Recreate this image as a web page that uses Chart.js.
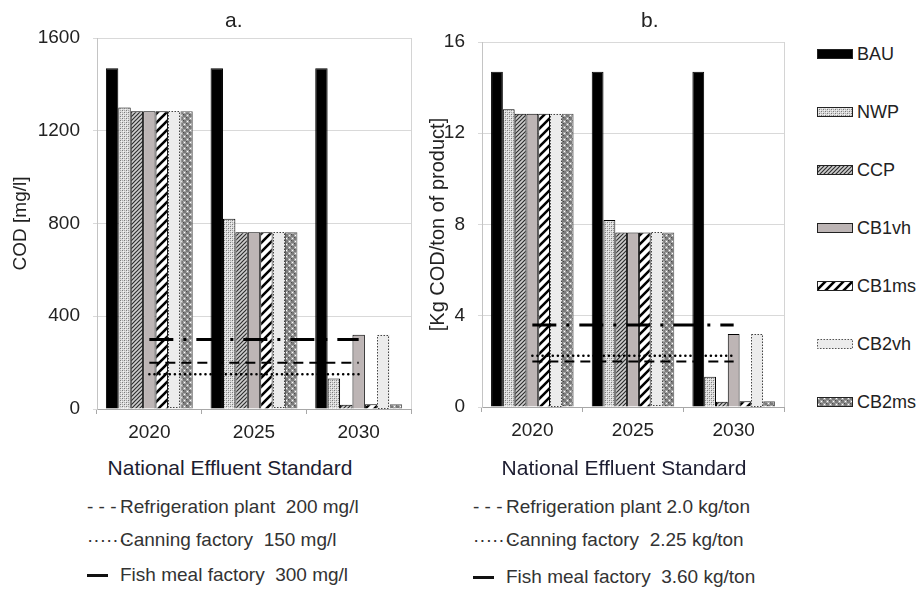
<!DOCTYPE html>
<html>
<head>
<meta charset="utf-8">
<script src="https://cdn.jsdelivr.net/npm/chart.js@4.4.1/dist/chart.umd.min.js"></script>
<style>
  body { margin: 0; background: #fff; font-family: "Liberation Sans", Arial, sans-serif; }
  #wrap { position: relative; width: 922px; height: 589px; overflow: hidden; }
  #wrap canvas.chart { position: absolute; }
  .t { position: absolute; white-space: pre; color: #222; }
  .panel { font-size: 21px; line-height: 24px; }
  .head { font-size: 21px; line-height: 24px; color: #1c1c30; text-align: center; }
  .std { font-size: 19px; line-height: 22px; color: #333; }
  .smp { display: inline-block; width: 33px; }
  .solid { display: inline-block; width: 21px; height: 3px; background: #111; vertical-align: middle; margin-right: 12px; }
  .leg { position: absolute; left: 817px; font-size: 18px; line-height: 20px; color: #222; }
  .leg canvas { position: absolute; left: 0; top: 5px; }
  .leg span { position: absolute; left: 40px; top: 0; white-space: pre; }
</style>
</head>
<body>
<div id="wrap">
  <canvas id="chart-a" class="chart" width="430" height="450" style="left:0;top:0"></canvas>
  <canvas id="chart-b" class="chart" width="375" height="450" style="left:425px;top:0"></canvas>

  <div class="t panel" style="left:225px;top:8px">a.</div>
  <div class="t panel" style="left:641px;top:8px">b.</div>

  <div class="t head" style="left:0;top:456px;width:460px">National Effluent Standard</div>
  <div class="t std" style="left:87px;top:496px"><span class="smp">- - -</span>Refrigeration plant  200 mg/l</div>
  <div class="t std" style="left:87px;top:529px"><span class="smp">·······</span>Canning factory  150 mg/l</div>
  <div class="t std" style="left:87px;top:564px"><span class="solid"></span>Fish meal factory  300 mg/l</div>

  <div class="t head" style="left:460px;top:456px;width:328px">National Effluent Standard</div>
  <div class="t std" style="left:473px;top:496px"><span class="smp">- - -</span>Refrigeration plant 2.0 kg/ton</div>
  <div class="t std" style="left:473px;top:529px"><span class="smp">·······</span>Canning factory  2.25 kg/ton</div>
  <div class="t std" style="left:473px;top:566px"><span class="solid"></span>Fish meal factory  3.60 kg/ton</div>

  <div id="legend"></div>
</div>

<script>
// categories
const years = ['2020', '2025', '2030'];
const scenarios = ['BAU', 'NWP', 'CCP', 'CB1vh', 'CB1ms', 'CB2vh', 'CB2ms'];

// panel a: COD concentration [mg/l]
const bauMg   = [1470, 1470, 1470];
const nwpMg   = [1300, 820, 132];
const ccpMg   = [1284, 762, 18];
const cb1vhMg = [1284, 762, 320];
const cb1msMg = [1284, 762, 20];
const cb2vhMg = [1284, 762, 320];
const cb2msMg = [1284, 762, 20];
const yTicksMg = [0, 400, 800, 1200, 1600];

// panel b: COD load [kg/ton of product]
const bauKg   = [14.7, 14.7, 14.7];
const nwpKg   = [13.05, 8.2, 1.33];
const ccpKg   = [12.85, 7.65, 0.23];
const cb1vhKg = [12.85, 7.65, 3.2];
const cb1msKg = [12.85, 7.65, 0.25];
const cb2vhKg = [12.85, 7.65, 3.2];
const cb2msKg = [12.85, 7.65, 0.25];
const yTicksKg = [0, 4, 8, 12, 16];

// national effluent standards
const refrigMg = [200, 200, 200];
const canningMg = [150, 150, 150];
const fishMealMg = [300, 300, 300];
const refrigKg = [2.0, 2.0, 2.0];
const canningKg = [2.25, 2.25, 2.25];
const fishMealKg = [3.6, 3.6, 3.6];

Chart.defaults.font.family = '"Liberation Sans", Arial, sans-serif';
Chart.defaults.color = '#222';

function tile(w, h, draw) {
    const c = document.createElement('canvas');
    c.width = w;
    c.height = h;
    draw(c.getContext('2d'), w, h);
    return c;
}

function diagonal(bg, fg, size, lw) {
    return tile(size, size, (g, s) => {
        g.fillStyle = bg;
        g.fillRect(0, 0, s, s);
        g.strokeStyle = fg;
        g.lineWidth = lw;
        g.beginPath();
        g.moveTo(0, s); g.lineTo(s, 0);
        g.moveTo(-s / 2, s / 2); g.lineTo(s / 2, -s / 2);
        g.moveTo(s / 2, s * 1.5); g.lineTo(s * 1.5, s / 2);
        g.stroke();
    });
}

// fill tiles, one per scenario
const tiles = {
    BAU: '#000000',
    NWP: tile(4, 4, g => {
        g.fillStyle = '#dcdcdc'; g.fillRect(0, 0, 4, 4);
        g.fillStyle = '#7a7a7a'; g.fillRect(0, 0, 1, 1); g.fillRect(2, 2, 1, 1);
        g.fillStyle = '#a8a8a8'; g.fillRect(2, 0, 1, 1); g.fillRect(0, 2, 1, 1);
        g.fillStyle = '#f4f4f4'; g.fillRect(1, 1, 1, 1); g.fillRect(3, 3, 1, 1);
    }),
    CCP: diagonal('#cfcfcf', '#2e2e2e', 4, 1.2),
    CB1vh: '#bdb5b5',
    CB1ms: diagonal('#ffffff', '#000000', 9, 2.6),
    CB2vh: '#ececec',
    CB2ms: tile(6, 6, g => {
        g.fillStyle = '#7a7a7a'; g.fillRect(0, 0, 6, 6);
        g.fillStyle = '#a4a4a4'; g.fillRect(0, 0, 3, 3); g.fillRect(3, 3, 3, 3);
        g.fillStyle = '#ffffff'; g.fillRect(1, 1, 1, 1); g.fillRect(4, 4, 1, 1);
        g.fillStyle = '#4a4a4a'; g.fillRect(3, 0, 1, 1); g.fillRect(0, 3, 1, 1);
    }),
};

function fillFor(ctx, name) {
    const t = tiles[name];
    return typeof t === 'string' ? t : ctx.createPattern(t, 'repeat');
}

// dotted outline for the CB2vh bars
const dottedBorder = {
    id: 'dottedBorder',
    afterDatasetDraw(chart, args) {
        const ds = chart.data.datasets[args.index];
        if (!ds.dotted) return;
        const ctx = chart.ctx;
        ctx.save();
        ctx.strokeStyle = '#444';
        ctx.lineWidth = 1;
        ctx.setLineDash([1.5, 1.5]);
        args.meta.data.forEach(bar => {
            const p = bar.getProps(['x', 'y', 'base', 'width'], true);
            const x0 = Math.round(p.x - p.width / 2) + 0.5;
            const y0 = Math.round(p.y) + 0.5;
            ctx.strokeRect(x0, y0, Math.round(p.width) - 1, Math.round(p.base - p.y) - 1);
        });
        ctx.restore();
    },
};

// right edge of the plot frame
const plotFrame = {
    id: 'plotFrame',
    beforeDatasetsDraw(chart) {
        const { top, right, bottom } = chart.chartArea;
        const ctx = chart.ctx;
        ctx.save();
        ctx.strokeStyle = '#d4d4d4';
        ctx.lineWidth = 1;
        ctx.beginPath();
        ctx.moveTo(Math.round(right) + 0.5, top);
        ctx.lineTo(Math.round(right) + 0.5, bottom);
        ctx.stroke();
        ctx.restore();
    },
};

function buildChart(canvasId, series, standards, yTicks, yTitle, geo) {
    const canvas = document.getElementById(canvasId);
    const ctx = canvas.getContext('2d');

    const bars = scenarios.map((name, i) => ({
        label: name,
        data: series[i],
        backgroundColor: fillFor(ctx, name),
        borderColor: name === 'CB2ms' ? '#555' : '#000',
        borderWidth: name === 'CB2vh' ? 0 : 1,
        dotted: name === 'CB2vh',
        categoryPercentage: geo.groupWidth,
        barPercentage: 1.0,
        order: 1,
    }));

    const lineStyle = [
        { width: 2, dash: [10, 6], cap: 'butt' },
        { width: 2.5, dash: [0.1, 5], cap: 'round' },
        { width: 3, dash: [24, 10, 3, 10], cap: 'butt' },
    ];
    const lines = standards.map((s, i) => ({
        type: 'line',
        label: s.label,
        data: s.data,
        borderColor: '#000',
        borderWidth: lineStyle[i].width,
        borderDash: lineStyle[i].dash,
        borderCapStyle: lineStyle[i].cap,
        pointRadius: 0,
        fill: false,
        order: 0,
    }));

    return new Chart(canvas, {
        type: 'bar',
        data: { labels: years, datasets: [...bars, ...lines] },
        options: {
            responsive: false,
            animation: false,
            layout: { padding: { left: 0, right: geo.padRight, top: geo.top, bottom: 0 } },
            plugins: {
                legend: { display: false },
                tooltip: { enabled: false },
            },
            scales: {
                x: {
                    grid: { drawOnChartArea: false, tickLength: 5, color: '#a8a8a8', offset: true },
                    border: { color: '#a8a8a8' },
                    ticks: { font: { size: 19 }, color: '#222', padding: 7 },
                    afterFit: s => { s.height = 450 - geo.bottom; },
                },
                y: {
                    min: yTicks[0],
                    max: yTicks[yTicks.length - 1],
                    ticks: {
                        stepSize: yTicks[1] - yTicks[0],
                        font: { size: 19 },
                        color: '#222',
                        padding: 13,
                        callback: v => String(v),
                    },
                    grid: { color: '#d9d9d9', tickLength: 4 },
                    border: { color: '#c4c4c4' },
                    title: {
                        display: true,
                        text: yTitle,
                        font: { size: geo.titleSize },
                        color: '#222',
                        padding: { top: geo.titlePad, bottom: 0 },
                    },
                    afterFit: s => { s.width = geo.left; },
                },
            },
        },
        plugins: [plotFrame, dottedBorder],
    });
}

buildChart('chart-a',
    [bauMg, nwpMg, ccpMg, cb1vhMg, cb1msMg, cb2vhMg, cb2msMg],
    [
        { label: 'Refrigeration plant', data: refrigMg },
        { label: 'Canning factory', data: canningMg },
        { label: 'Fish meal factory', data: fishMealMg },
    ],
    yTicksMg, 'COD [mg/l]',
    { left: 97, padRight: 19, top: 38, bottom: 409, groupWidth: 0.83, titleSize: 19, titlePad: 9 });

buildChart('chart-b',
    [bauKg, nwpKg, ccpKg, cb1vhKg, cb1msKg, cb2vhKg, cb2msKg],
    [
        { label: 'Refrigeration plant', data: refrigKg },
        { label: 'Canning factory', data: canningKg },
        { label: 'Fish meal factory', data: fishMealKg },
    ],
    yTicksKg, '[Kg COD/ton of product]',
    { left: 57, padRight: 16, top: 42, bottom: 407, groupWidth: 0.82, titleSize: 20, titlePad: 1 });

// scenario legend on the right
const legend = document.getElementById('legend');
scenarios.forEach((name, i) => {
    const item = document.createElement('div');
    item.className = 'leg';
    item.style.top = (44 + i * 58) + 'px';
    const sw = document.createElement('canvas');
    sw.width = 36;
    sw.height = 10;
    const g = sw.getContext('2d');
    g.fillStyle = fillFor(g, name);
    g.fillRect(0, 0, 36, 10);
    g.strokeStyle = name === 'CB2vh' ? '#555' : '#222';
    if (name === 'CB2vh') g.setLineDash([1.5, 1.5]);
    g.strokeRect(0.5, 0.5, 35, 9);
    const label = document.createElement('span');
    label.textContent = name;
    item.appendChild(sw);
    item.appendChild(label);
    legend.appendChild(item);
});
</script>
</body>
</html>
